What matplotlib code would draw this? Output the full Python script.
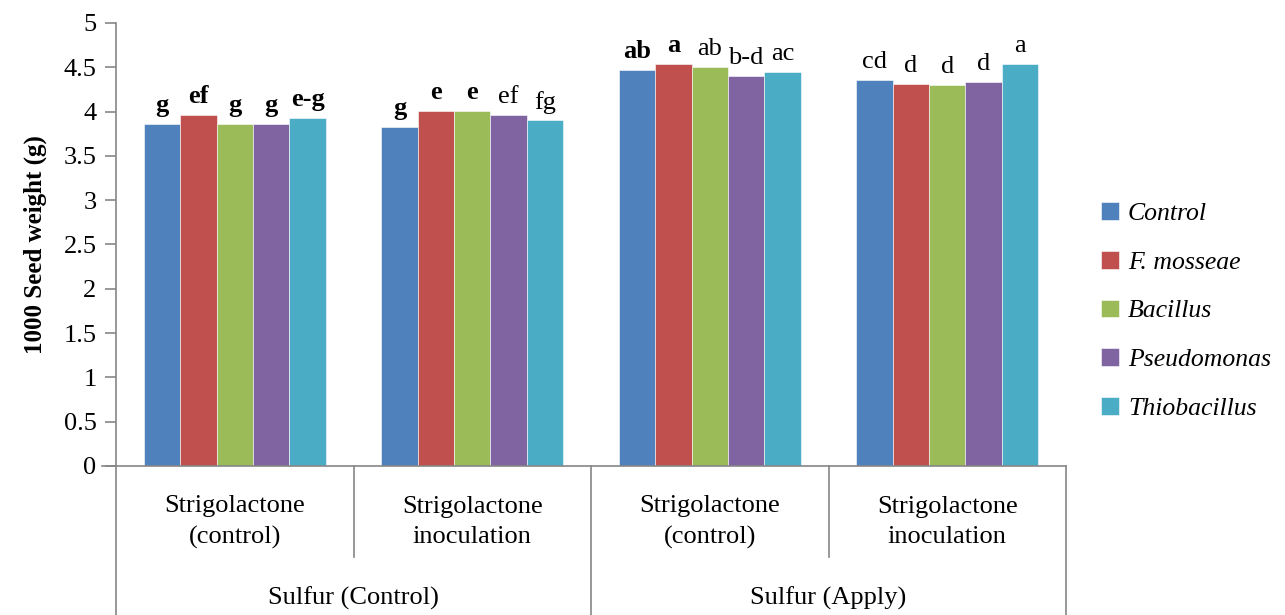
import numpy as np
import matplotlib
matplotlib.use('Agg')
import matplotlib.pyplot as plt
from matplotlib.ticker import FormatStrFormatter

plt.rcParams['font.family'] = ['Liberation Serif', 'DejaVu Serif']

# ── Data ──────────────────────────────────────────────────────────────
categories = ['Strigolactone\n(control)', 'Strigolactone\ninoculation',
              'Strigolactone\n(control)', 'Strigolactone\ninoculation']
groups = ['Sulfur (Control)', 'Sulfur (Apply)']
series = ['Control', 'F. mosseae', 'Bacillus', 'Pseudomonas', 'Thiobacillus']

control = [3.86, 3.83, 4.47, 4.36]
f_mosseae = [3.96, 4.01, 4.54, 4.31]
bacillus = [3.86, 4.01, 4.50, 4.30]
pseudomonas = [3.86, 3.96, 4.40, 4.33]
thiobacillus = [3.93, 3.90, 4.45, 4.54]
values = [control, f_mosseae, bacillus, pseudomonas, thiobacillus]

letters = [['g', 'g', 'ab', 'cd'],
           ['ef', 'e', 'a', 'd'],
           ['g', 'e', 'ab', 'd'],
           ['g', 'ef', 'b-d', 'd'],
           ['e-g', 'fg', 'ac', 'a']]
bold = [[True, True, True, False],
        [True, True, True, False],
        [True, True, False, False],
        [True, False, False, False],
        [True, False, False, False]]

colors = ['#4F81BD', '#C0504D', '#9BBB59', '#8064A2', '#4BACC6']
spine_c = '#868686'

# ── Plot ──────────────────────────────────────────────────────────────
W, H = 1285, 615
fig = plt.figure(figsize=(W / 100, H / 100), dpi=100)
ax = fig.add_axes([116 / W, 1 - 466 / H, 950 / W, 443 / H])

x = np.arange(len(categories))
bw = 36.4 / 237.5
for i, (vals, col, name) in enumerate(zip(values, colors, series)):
    pos = x + (i - 2) * bw
    ax.bar(pos, vals, width=bw, color=col, edgecolor='white', linewidth=0.4,
           label=name, zorder=2)
    for xp, v, lab, b in zip(pos, vals, letters[i], bold[i]):
        ax.annotate(lab, (xp, v), xytext=(0, 5), textcoords='offset points',
                    ha='center', va='bottom', fontsize=19,
                    fontweight='bold' if b else 'normal')

ax.set_xlim(-0.5, len(categories) - 0.5)
ax.set_ylim(0, 5)
ax.set_yticks(np.arange(0, 5.01, 0.5))
ax.yaxis.set_major_formatter(FormatStrFormatter('%g'))
ax.tick_params(axis='y', direction='out', length=8, width=1.2, color=spine_c,
               labelsize=19, pad=6)
ax.set_xticks([])
for s in ['top', 'right']:
    ax.spines[s].set_visible(False)
for s in ['left', 'bottom']:
    ax.spines[s].set_color(spine_c)
    ax.spines[s].set_linewidth(1.2)

ax.set_ylabel('1000 Seed weight (g)', fontsize=18, fontweight='bold', labelpad=12)

# ── Hierarchical x axis ───────────────────────────────────────────────
tr = ax.get_xaxis_transform()
inner = -(557 - 466) / 443
outer = -(615 - 466) / 443
for xd in [-0.5, 1.5, 3.5]:
    ax.plot([xd, xd], [0, outer], transform=tr, color=spine_c, lw=1.2, clip_on=False)
for xd in [0.5, 2.5]:
    ax.plot([xd, xd], [0, inner], transform=tr, color=spine_c, lw=1.2, clip_on=False)
ax.plot([-0.56, -0.5], [0, 0], transform=tr, color=spine_c, lw=1.2, clip_on=False)

for xc, lab in zip(x, categories):
    ax.text(xc, -(522 - 466) / 443, lab, transform=tr, ha='center', va='center',
            fontsize=19, linespacing=1.45)
for k, lab in enumerate(groups):
    ax.text(2 * k + 0.5, -(598 - 466) / 443, lab, transform=tr, ha='center',
            va='center', fontsize=19)

# ── Legend ────────────────────────────────────────────────────────────
leg = fig.legend(loc='center left', bbox_to_anchor=(1101 / W, 1 - 311 / H),
                 frameon=False, prop={'style': 'italic', 'size': 18.5},
                 handlelength=0.7, handleheight=0.7, handletextpad=0.35,
                 labelspacing=1.0, borderpad=0, borderaxespad=0)

fig.savefig('out.png', dpi=100)
plt.close(fig)
